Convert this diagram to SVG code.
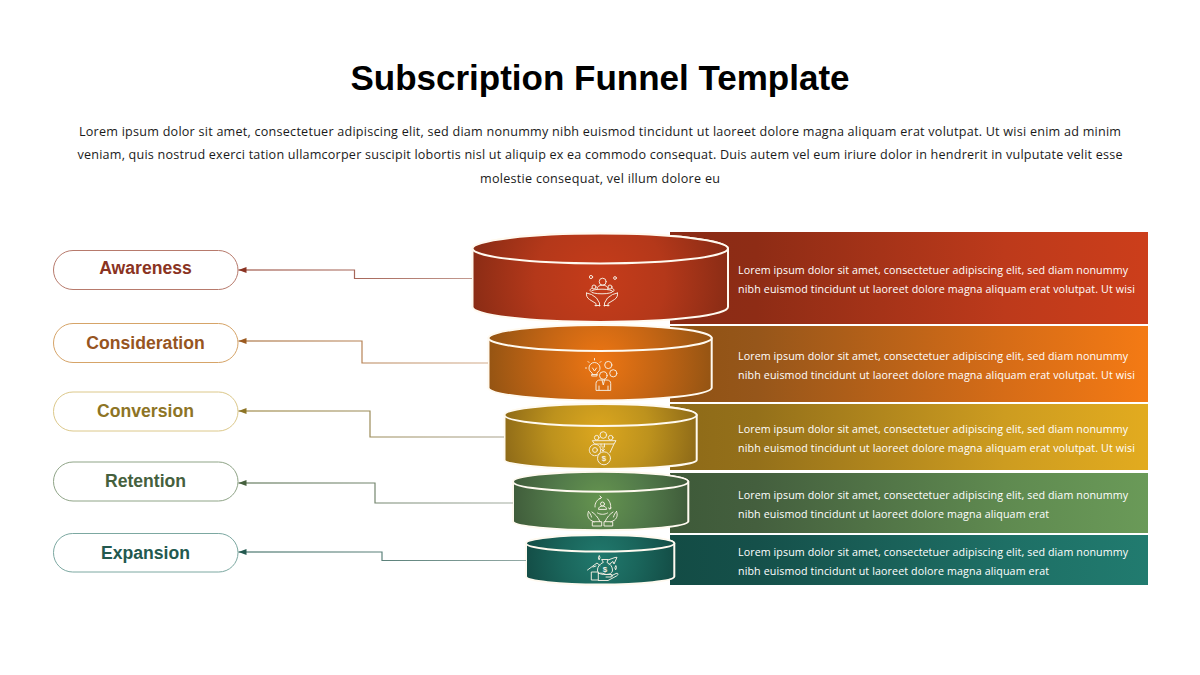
<svg xmlns="http://www.w3.org/2000/svg" width="1200" height="675" viewBox="0 0 1200 675">
<style>
.title{font:bold 35px "Liberation Sans",Arial,sans-serif;fill:#000;text-anchor:middle}
.intro{font:12.6px "Open Sans","Noto Sans",sans-serif;fill:#1a1a1a;text-anchor:middle}
.bar{font:10.7px "Open Sans","Noto Sans",sans-serif;fill:#fff}
.lab{font:bold 17.6px "Liberation Sans",Arial,sans-serif;text-anchor:middle}
.pill{fill:#fff;stroke-width:1}
.cyl{stroke:#fffaf0;stroke-width:2}
.con{fill:none;stroke-width:1.2}
.ico{fill:none;stroke:#f6efe4;stroke-width:.95;stroke-linecap:round;stroke-linejoin:round}
.dollar{font:bold 8px "Liberation Sans",Arial,sans-serif;fill:#f6efe4;text-anchor:middle}
</style>
<defs>
<linearGradient id="b1"><stop offset="0" stop-color="#8a2b15"/><stop offset=".18" stop-color="#8e2c15"/><stop offset=".7" stop-color="#bd3a1b"/><stop offset="1" stop-color="#cc3e1b"/></linearGradient>
<linearGradient id="b2"><stop offset="0" stop-color="#8f5213"/><stop offset=".18" stop-color="#96561a"/><stop offset=".7" stop-color="#d66c17"/><stop offset="1" stop-color="#f47a14"/></linearGradient>
<linearGradient id="b3"><stop offset="0" stop-color="#8e6a18"/><stop offset=".18" stop-color="#94701a"/><stop offset=".7" stop-color="#cd9c20"/><stop offset="1" stop-color="#e2ab1f"/></linearGradient>
<linearGradient id="b4"><stop offset="0" stop-color="#3e5a39"/><stop offset=".18" stop-color="#445f3e"/><stop offset=".7" stop-color="#5f8a50"/><stop offset="1" stop-color="#6a9a58"/></linearGradient>
<linearGradient id="b5"><stop offset="0" stop-color="#134c45"/><stop offset=".18" stop-color="#15504a"/><stop offset=".7" stop-color="#1e6f65"/><stop offset="1" stop-color="#217b6f"/></linearGradient>
<radialGradient id="c1" gradientUnits="userSpaceOnUse" cx="600" cy="280" r="130"><stop offset="0" stop-color="#c63c1a"/><stop offset=".5" stop-color="#b4381a"/><stop offset="1" stop-color="#8a2c15"/></radialGradient>
<radialGradient id="c2" gradientUnits="userSpaceOnUse" cx="600" cy="362" r="114"><stop offset="0" stop-color="#ee7613"/><stop offset=".5" stop-color="#c46514"/><stop offset="1" stop-color="#945413"/></radialGradient>
<radialGradient id="c3" gradientUnits="userSpaceOnUse" cx="600" cy="432" r="98"><stop offset="0" stop-color="#dca71f"/><stop offset=".5" stop-color="#bd921d"/><stop offset="1" stop-color="#8f6b18"/></radialGradient>
<radialGradient id="c4" gradientUnits="userSpaceOnUse" cx="600" cy="500" r="90"><stop offset="0" stop-color="#65944f"/><stop offset=".5" stop-color="#527a4a"/><stop offset="1" stop-color="#3f5b3a"/></radialGradient>
<radialGradient id="c5" gradientUnits="userSpaceOnUse" cx="600" cy="558" r="77"><stop offset="0" stop-color="#21796d"/><stop offset=".5" stop-color="#1a655b"/><stop offset="1" stop-color="#134c45"/></radialGradient>
<linearGradient id="l1"><stop offset="0" stop-color="#8a3322"/><stop offset="1" stop-color="#c39a90"/></linearGradient>
<linearGradient id="l2"><stop offset="0" stop-color="#9b5a20"/><stop offset="1" stop-color="#d3ac8c"/></linearGradient>
<linearGradient id="l3"><stop offset="0" stop-color="#8d7425"/><stop offset="1" stop-color="#a9a28c"/></linearGradient>
<linearGradient id="l4"><stop offset="0" stop-color="#45603d"/><stop offset="1" stop-color="#a3aca0"/></linearGradient>
<linearGradient id="l5"><stop offset="0" stop-color="#23594f"/><stop offset="1" stop-color="#94aaa6"/></linearGradient>
<marker id="m1" markerWidth="9" markerHeight="7" refX="8" refY="3.500" orient="auto" markerUnits="userSpaceOnUse"><path d="M0 .5L8 3.500L0 6.500z" fill="#8a3322"/></marker>
<marker id="m2" markerWidth="9" markerHeight="7" refX="8" refY="3.500" orient="auto" markerUnits="userSpaceOnUse"><path d="M0 .5L8 3.500L0 6.500z" fill="#9b5a20"/></marker>
<marker id="m3" markerWidth="9" markerHeight="7" refX="8" refY="3.500" orient="auto" markerUnits="userSpaceOnUse"><path d="M0 .5L8 3.500L0 6.500z" fill="#8d7425"/></marker>
<marker id="m4" markerWidth="9" markerHeight="7" refX="8" refY="3.500" orient="auto" markerUnits="userSpaceOnUse"><path d="M0 .5L8 3.500L0 6.500z" fill="#45603d"/></marker>
<marker id="m5" markerWidth="9" markerHeight="7" refX="8" refY="3.500" orient="auto" markerUnits="userSpaceOnUse"><path d="M0 .5L8 3.500L0 6.500z" fill="#23594f"/></marker>
</defs>
<rect width="1200" height="675" fill="#fff"/>
<text class="title" x="600" y="90">Subscription Funnel Template</text>
<text class="intro" x="600" y="135.500" textLength="1042">Lorem ipsum dolor sit amet, consectetuer adipiscing elit, sed diam nonummy nibh euismod tincidunt ut laoreet dolore magna aliquam erat volutpat. Ut wisi enim ad minim</text>
<text class="intro" x="600" y="159" textLength="1045">veniam, quis nostrud exerci tation ullamcorper suscipit lobortis nisl ut aliquip ex ea commodo consequat. Duis autem vel eum iriure dolor in hendrerit in vulputate velit esse</text>
<text class="intro" x="600" y="182.500" textLength="240">molestie consequat, vel illum dolore eu</text>

<g id="stage-awareness">
<rect class="pill" x="53.500" y="250.500" width="184.500" height="39" rx="19.500" stroke="#b77a6c"/>
<text class="lab" x="145.500" y="273.500" fill="#8a3322">Awareness</text>
<rect x="670" y="232" width="478" height="92" fill="url(#b1)"/>
<path class="cyl" fill="url(#c1)" d="M472.500 248.500V307A127.750 15 0 0 0 728 307V248.500A127.750 15 0 0 0 472.500 248.500Z"/>
<ellipse class="cyl" cx="600.250" cy="248.500" rx="127.750" ry="15" fill="url(#c1)"/>
<g class="ico" transform="translate(602 290)">
<circle cx=".7" cy="-8.300" r="3.500"/><circle cx="-8" cy="-3" r="2"/><circle cx="8" cy="-3" r="2"/><circle cx="-11" cy="-13" r="1.600"/><circle cx="13" cy="-12" r="1.400"/>
<path d="M-5-.5c0-3 2-4.300 5.500-4.300S6-3.500 6-.5M-12 .5c0-1.500 1-2 2-2.200M12 .5c0-1.500-1-2-2-2.200"/>
<ellipse cy="1.500" rx="11" ry="2.300"/>
<path d="M-15.500 3c-.5 3 .8 5 3 6.500L-6 13.500V16M15.500 3c.5 3-.8 5-3 6.500L6 13.500V16M-15.500 3l5 1.500 5 3.500 3 5v3M15.500 3l-5 1.500-5 3.500-3 5v3M-7 15.500H-2M7 15.500H2"/>
</g>
<text class="bar" x="738" y="273.500" textLength="390">Lorem ipsum dolor sit amet, consectetuer adipiscing elit, sed diam nonummy</text>
<text class="bar" x="738" y="292.500" textLength="397">nibh euismod tincidunt ut laoreet dolore magna aliquam erat volutpat. Ut wisi</text>
</g>

<g id="stage-consideration">
<rect class="pill" x="53.500" y="323.500" width="184.500" height="39" rx="19.500" stroke="#d6a468"/>
<text class="lab" x="145.500" y="348.500" fill="#97551f">Consideration</text>
<rect x="670" y="326" width="478" height="76" fill="url(#b2)"/>
<path class="cyl" fill="url(#c2)" d="M488.500 338V388A111.700 13 0 0 0 711.700 388V338A111.700 13 0 0 0 488.500 338Z"/>
<ellipse class="cyl" cx="600.100" cy="338" rx="111.600" ry="13" fill="url(#c2)"/>
<g class="ico" transform="translate(603 376)">
<path d="M-11-3c-2-1.500-3-3-3-5a5.500 5.500 0 0 1 11 0c0 2-1 3.500-3 5V0H-11zM-11-1.500H-6M-10.500-8l2 3 2-3M-16.500-8h-1M-14-13.500l-1-1M-8.500-16v-1.500M-3-13.500l1-1"/>
<circle cx="5.300" cy="-11" r="3.600"/><circle cx="10.300" cy="-2.700" r="3.600"/><circle cx=".3" cy="-.5" r="3.800"/>
<path d="M-7 14V7.500C-7 5-5 4-3 4H4C6.500 4 7.700 5.500 7.700 7.500V14ZM-1 4L.3 9 1.500 4M-4 14V10M5 14V10"/>
</g>
<text class="bar" x="738" y="359.500" textLength="390">Lorem ipsum dolor sit amet, consectetuer adipiscing elit, sed diam nonummy</text>
<text class="bar" x="738" y="378.500" textLength="397">nibh euismod tincidunt ut laoreet dolore magna aliquam erat volutpat. Ut wisi</text>
</g>

<g id="stage-conversion">
<rect class="pill" x="53.500" y="392" width="184.500" height="39" rx="19.500" stroke="#dcc88a"/>
<text class="lab" x="145.500" y="417" fill="#8d7425">Conversion</text>
<rect x="670" y="404" width="478" height="66" fill="url(#b3)"/>
<path class="cyl" fill="url(#c3)" d="M504.500 415V460A96.100 9 0 0 0 696.700 460V415A96.100 11 0 0 0 504.500 415Z"/>
<ellipse class="cyl" cx="600.600" cy="415" rx="96.100" ry="11" fill="url(#c3)"/>
<g class="ico" transform="translate(603 448)">
<circle cx=".3" cy="-13" r="3.300"/><circle cx="-6.300" cy="-10.300" r="2.300"/><circle cx="7.700" cy="-10.300" r="2.300"/>
<path d="M-10.300-7.300H13L11-4H-8ZM11-4L7 4.500M-2-4v3M1.500-4v3M0-2V3M-1.500 1.500L0 3 1.500 1.500"/>
<circle cx="-8" cy="2" r="5.700" stroke-dasharray="2.200 1"/><circle cx="-8" cy="2" r="2.400"/><circle cx="1" cy="10.300" r="6.500"/>
<text class="dollar" x="1" y="13.200" stroke="none">$</text>
</g>
<text class="bar" x="738" y="433" textLength="390">Lorem ipsum dolor sit amet, consectetuer adipiscing elit, sed diam nonummy</text>
<text class="bar" x="738" y="452" textLength="397">nibh euismod tincidunt ut laoreet dolore magna aliquam erat volutpat. Ut wisi</text>
</g>

<g id="stage-retention">
<rect class="pill" x="53.500" y="462" width="184.500" height="39" rx="19.500" stroke="#8fa487"/>
<text class="lab" x="145.500" y="487" fill="#45603d">Retention</text>
<rect x="670" y="473" width="478" height="60" fill="url(#b4)"/>
<path class="cyl" fill="url(#c4)" d="M513 481.700V521.500A87.700 9 0 0 0 688.300 521.500V481.700A87.700 10 0 0 0 513 481.700Z"/>
<ellipse class="cyl" cx="600.650" cy="481.700" rx="87.650" ry="10" fill="url(#c4)"/>
<g class="ico" transform="translate(602.500 513)">
<circle cx="0" cy="-9" r="2"/><path d="M-4-4c0-2 2-3 4-3s4 1 4 3zM-7.500-6C-8-10-5-14-1-15.500M5-14C8-11 9-7 7.500-4M-5 0C-2 1.800 2 1.800 5 0M-2.500-17L-1-15.500-2.500-14M8.800-5L7.500-4 6-5"/>
<path d="M-14-1.500C-15.500 2-14.500 5-12 7L-8.500 9M-14-1.500C-12.500 0-11.500 2-11 4M-10.500-1C-7.500 1-4.500 4-2.500 8.700M14-1.500C15.500 2 14.500 5 12 7L8.500 9M14-1.500C12.500 0 11.500 2 11 4M10.500-1C7.500 1 4.500 4 2.500 8.700M-9.800 8.700H-.8V13H-9.800ZM9.800 8.700H1.500V13H9.800Z"/>
</g>
<text class="bar" x="738" y="499" textLength="390">Lorem ipsum dolor sit amet, consectetuer adipiscing elit, sed diam nonummy</text>
<text class="bar" x="738" y="518" textLength="311">nibh euismod tincidunt ut laoreet dolore magna aliquam erat</text>
</g>

<g id="stage-expansion">
<rect class="pill" x="53.500" y="533.500" width="184.500" height="38.500" rx="19.200" stroke="#7ca8a1"/>
<text class="lab" x="145.500" y="558.500" fill="#23594f">Expansion</text>
<rect x="670" y="535" width="478" height="50" fill="url(#b5)"/>
<path class="cyl" fill="url(#c5)" d="M526 543.300V576.500A74.100 8 0 0 0 674.300 576.500V543.300A74.100 8.300 0 0 0 526 543.300Z"/>
<ellipse class="cyl" cx="600.150" cy="543.300" rx="74.150" ry="8.300" fill="url(#c5)"/>
<g class="ico" transform="translate(602 569)">
<path d="M-14.500 1L-5-6l3 2.500M-6-3L-9-2M6-9L13-11.500 15-11.700 12-5 11-7.500 7-4.500"/>
<path d="M0-9.500H6L5-6.500C8.500-5 10.500-2 10.500 1 10.500 4 8 5.500 3 5.500S-4.500 4-4.500 1C-4.500-2-2.500-5 1-6.500Z"/>
<path d="M-10.300 3H-3.700V11H-10.300ZM-3.700 4.500C-1 3.500 2 4.500 4 5.500H9C11 5.500 11 8 9 8H4M9 7L14 4.500C16.500 3.500 16.500 6 14.500 7L6 11.500H-3.700"/>
<path d="M-3.500-11.500L-2.700-13.500-2-11.500-2.700-9.500ZM13-1.500L13.800-3.500 14.500-1.500 13.800.5Z"/>
<text class="dollar" x="3" y="3" stroke="none">$</text>
</g>
<text class="bar" x="738" y="556" textLength="390">Lorem ipsum dolor sit amet, consectetuer adipiscing elit, sed diam nonummy</text>
<text class="bar" x="738" y="575" textLength="311">nibh euismod tincidunt ut laoreet dolore magna aliquam erat</text>
</g>

<g id="connectors">
<path class="con" stroke="url(#l1)" marker-end="url(#m1)" d="M472 278.500H354.500V270H238.500"/>
<path class="con" stroke="url(#l2)" marker-end="url(#m2)" d="M488 363H362V341H238.500"/>
<path class="con" stroke="url(#l3)" marker-end="url(#m3)" d="M504 437H370V411H238.500"/>
<path class="con" stroke="url(#l4)" marker-end="url(#m4)" d="M513 503H375V483H238.500"/>
<path class="con" stroke="url(#l5)" marker-end="url(#m5)" d="M526 560.500H382V552H238.500"/>
</g>
</svg>
